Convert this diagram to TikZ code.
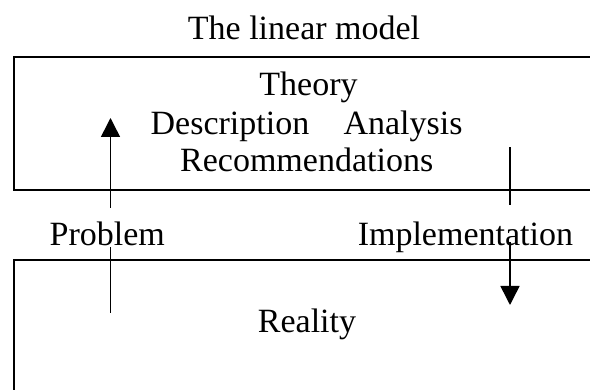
\documentclass[tikz,border=0pt]{standalone}
\usepackage{fontspec}
\setmainfont{Liberation Serif}
\usetikzlibrary{arrows.meta}
\begin{document}
\begin{tikzpicture}[x=1pt,y=-1pt,
  lbl/.style={inner sep=0pt, anchor=base, font=\fontsize{34}{40}\selectfont},
  frame/.style={draw=black, line width=1.6pt, inner sep=0pt, anchor=north west},
  link/.style={line width=1.5pt},
  head/.style={-{Triangle[length=19pt,width=19pt]}}]
\useasboundingbox (0,0) rectangle (590,390);
\clip (0,0) rectangle (590,390);
% boxes (their right/bottom parts run off the page)
\node[frame, minimum width=620pt, minimum height=133.5pt] (theorybox) at (13,56) {};
\node[frame, minimum width=620pt, minimum height=160pt] (realitybox) at (13,259.5) {};
% texts
\node[lbl] (title) at (304,39.3) {The linear model};
\node[lbl] (theory) at (308.5,96) {Theory};
\node[lbl] (descr) at (230,135) {Description};
\node[lbl] (anal) at (403,135) {Analysis};
\node[lbl] (recom) at (306.7,171.5) {Recommendations};
\node[lbl] (problem) at (107.3,245.5) {Problem};
\node[lbl] (impl) at (465.4,246) {Implementation};
\node[lbl] (reality) at (307,333) {Reality};
% connector ends
\coordinate (pa) at (110.5,313);
\coordinate (pb) at (110.5,246.7);
\coordinate (pc) at (110.5,208);
\coordinate (pd) at (110.5,118);
\coordinate (ia) at (510,147.5);
\coordinate (ib) at (510,205);
\coordinate (ic) at (510,242);
\coordinate (id) at (510,305);
\draw[link] (pa) -- (pb);
\draw[link,head] (pc) -- (pd);
\draw[link] (ia) -- (ib);
\draw[link,head] (ic) -- (id);
\end{tikzpicture}
\end{document}
